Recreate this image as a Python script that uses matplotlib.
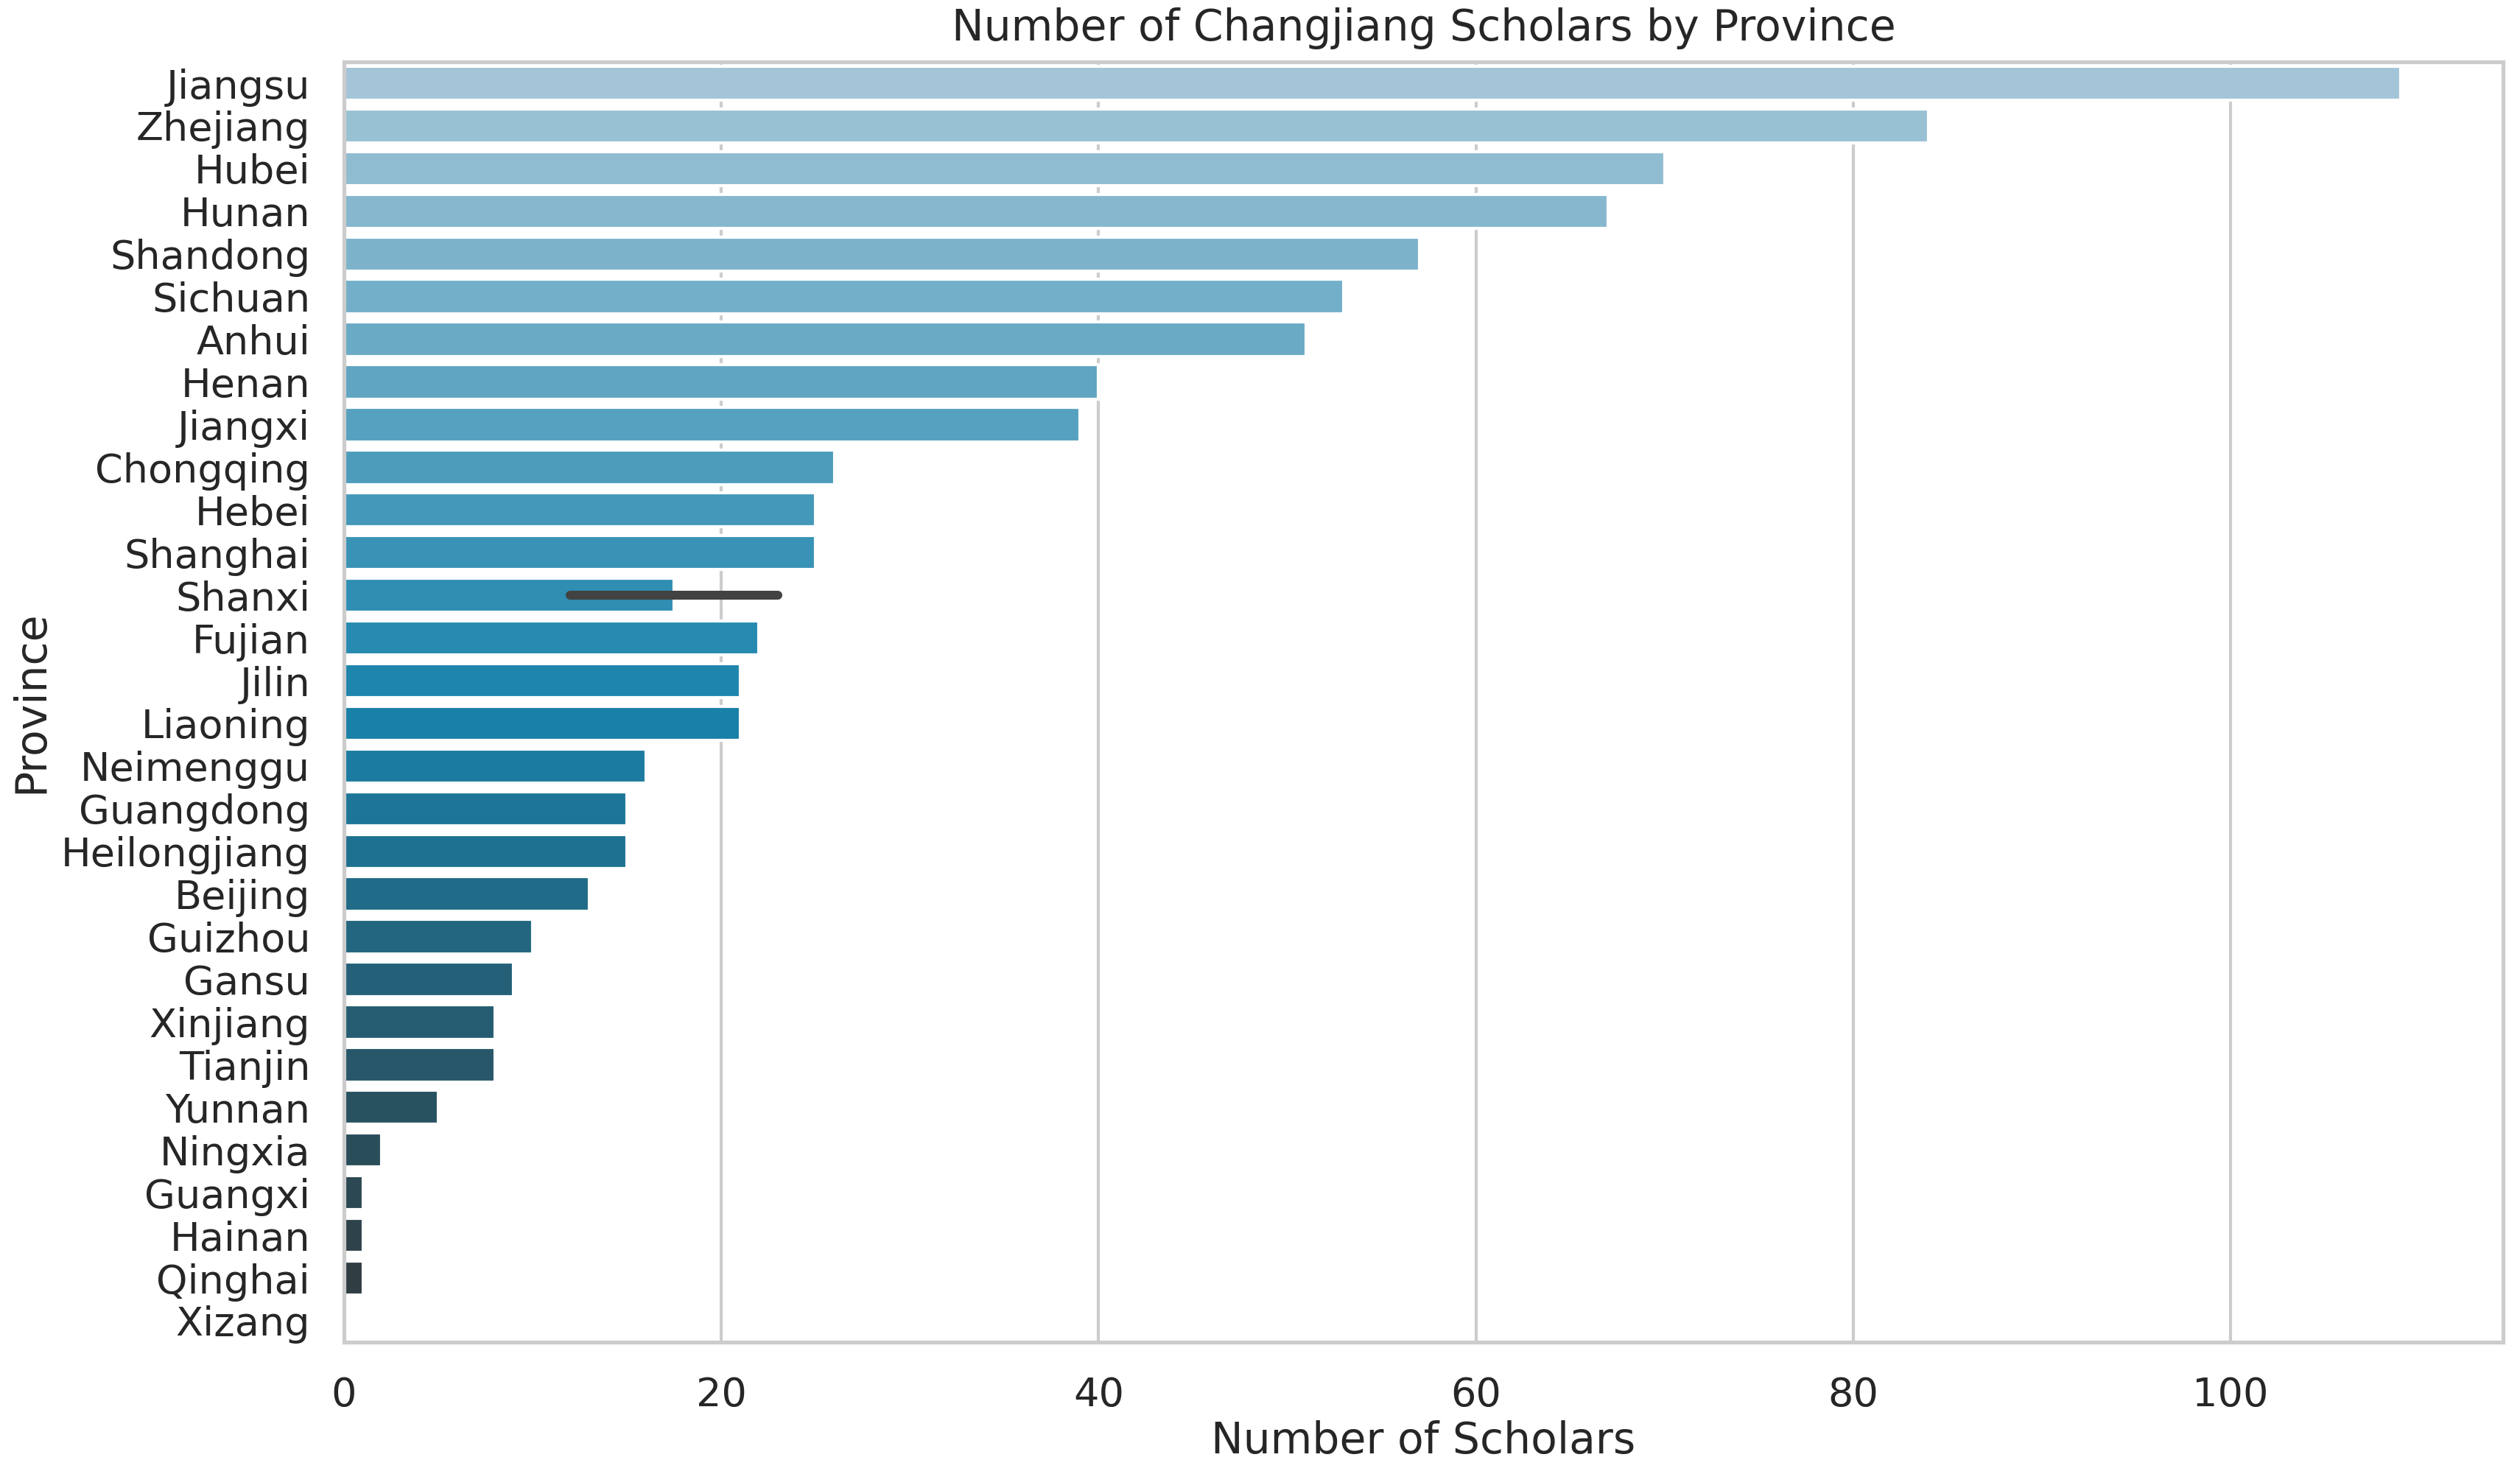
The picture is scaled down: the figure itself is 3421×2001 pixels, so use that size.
import numpy as np
import pandas as pd
import matplotlib
matplotlib.use("Agg")
import matplotlib.pyplot as plt
import seaborn as sns
from matplotlib.colors import LinearSegmentedColormap

# one row per record; Shanxi shows up twice (Shanxi / Shaanxi)
provinces = ["Jiangsu", "Zhejiang", "Hubei", "Hunan", "Shandong", "Sichuan",
             "Anhui", "Henan", "Jiangxi", "Chongqing", "Hebei", "Shanghai",
             "Shanxi", "Fujian", "Jilin", "Liaoning", "Neimenggu", "Guangdong",
             "Heilongjiang", "Beijing", "Shanxi", "Guizhou", "Gansu", "Xinjiang",
             "Tianjin", "Yunnan", "Ningxia", "Guangxi", "Hainan", "Qinghai",
             "Xizang"]
scholars = [109, 84, 70, 67, 57, 53, 51, 40, 39, 26, 25, 25, 23, 22, 21, 21,
            16, 15, 15, 13, 12, 10, 9, 8, 8, 5, 2, 1, 1, 1, 0]

df = pd.DataFrame({"Province": provinces, "Number of Scholars": scholars})
order = list(dict.fromkeys(provinces))

sns.set_theme(style="whitegrid")
plt.rcParams["font.family"] = ["DejaVu Sans"]

# light blue -> deep cyan-blue -> dark grey
cmap = LinearSegmentedColormap.from_list("pal", ["#a4cce2", "#008ec4", "#333333"])
colors = [cmap(t) for t in np.linspace(0, 1, len(order) + 2)[1:-1]]

fig = plt.figure(figsize=(3421 / 300, 2001 / 300), dpi=300)
ax = fig.add_axes([0.1365, 0.0895, 0.8568, 0.8685])

sns.barplot(data=df, x="Number of Scholars", y="Province", order=order,
            hue="Province", hue_order=order, palette=colors, legend=False,
            errorbar=("ci", 95), seed=0,
            err_kws={"linewidth": 2.9, "color": ".26", "solid_capstyle": "round"},
            ax=ax)

ax.set_title("Number of Changjiang Scholars by Province", fontsize=14, pad=7, color=".15")
ax.set_xlabel("Number of Scholars", fontsize=14, color=".15", labelpad=2)
ax.set_ylabel("Province", fontsize=14, color=".15", labelpad=3)
ax.tick_params(axis="both", labelsize=13, colors=".15", pad=5)
ax.grid(axis="y", visible=False)
for s in ax.spines.values():
    s.set_color("#cccccc")
    s.set_linewidth(1.25)

fig.savefig("out.png", dpi=300)
